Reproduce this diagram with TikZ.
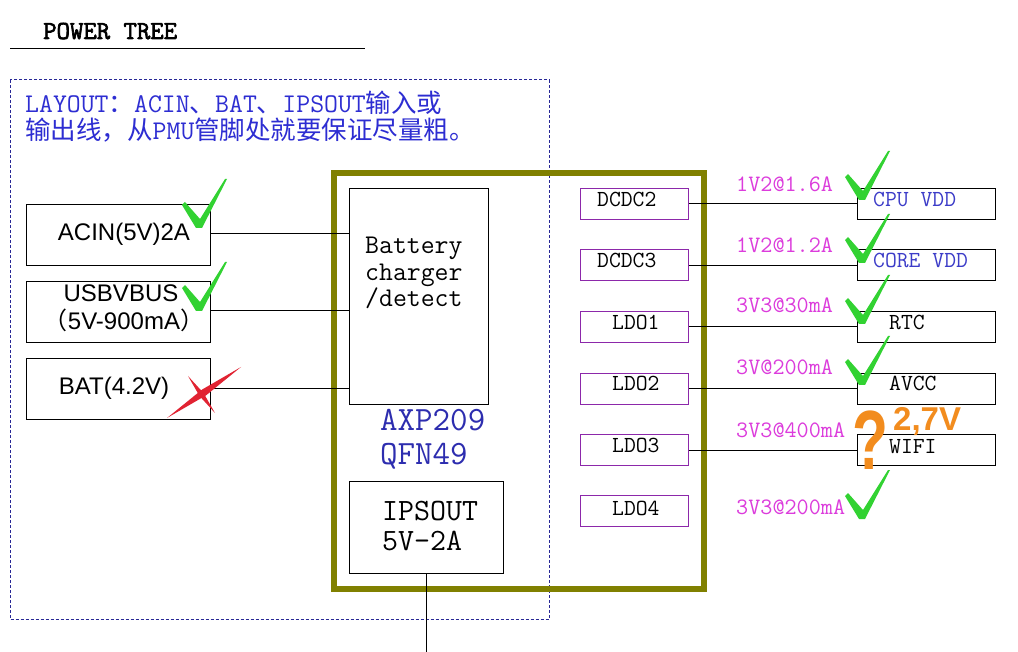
\documentclass[tikz,border=0pt]{standalone}
\usepackage{fontspec}
\setmainfont{Liberation Sans}
\newfontfamily\sansf{Liberation Sans}
\newfontfamily\cjk{Noto Sans CJK SC}
\newfontfamily\titlemono[AutoFakeBold=2.5]{Latin Modern Mono}
\newcommand{\mono}{\ttfamily}
\definecolor{navyd}{RGB}{40,40,150}
\definecolor{layblue}{RGB}{45,45,210}
\definecolor{olivec}{RGB}{128,128,0}
\definecolor{regpurple}{RGB}{140,40,170}
\definecolor{railmag}{RGB}{220,60,220}
\definecolor{chipblue}{RGB}{45,45,175}
\definecolor{loadblue}{RGB}{60,60,200}
\definecolor{okgreen}{RGB}{50,210,50}
\definecolor{badred}{RGB}{225,35,50}
\definecolor{warnorange}{RGB}{242,140,30}
\tikzset{
  inbox/.style={draw, line width=1pt, minimum width=184pt, minimum height=61pt, inner sep=0pt},
  regbox/.style={draw=regpurple, line width=1pt, minimum width=107.6pt, minimum height=31pt, inner sep=0pt},
  loadbox/.style={draw, line width=1pt, minimum width=138.7pt, minimum height=31pt, inner sep=0pt},
  wire/.style={draw, line width=1pt},
  lbl/.style={inner sep=0pt, anchor=base west},
  clbl/.style={inner sep=0pt, anchor=base},
  insans/.style={font=\sansf\fontsize{24}{28}\selectfont},
  regtxt/.style={font=\mono\fontsize{23}{26}\selectfont},
  railtxt/.style={font=\mono\fontsize{23.5}{26}\selectfont, text=railmag},
  okmark/.pic={\fill[okgreen] (-18,-22) -- (-4,1) -- (2,1) -- (27,-48) -- (25,-48) -- (0,-8) -- (-15,-25) -- cycle;}
}
\newcommand{\cj}[1]{{\cjk\fontsize{25.5}{28}\selectfont #1}}
\begin{document}
\begin{tikzpicture}[x=1pt,y=-1pt]
\useasboundingbox[fill=white] (0,0) rectangle (1018,652);

% title
\node[lbl, font=\titlemono\bfseries\fontsize{26}{28}\selectfont] (title) at (43,39) {POWER TREE};
\coordinate (ulA) at (10,49);
\coordinate (ulB) at (365,49);
\draw[line width=1pt] (ulA) -- (ulB);

% dashed layout region
\draw[navyd, line width=1pt, dash pattern=on 3pt off 2pt] (10,80) rectangle (549.3,619.3);
\node[lbl, text=layblue, font=\mono\fontsize{27}{30}\selectfont] (lay1) at (25,113)
  {LAYOUT\cj{：}ACIN\cj{、}BAT\cj{、}IPSOUT\cj{输入或}};
\node[lbl, text=layblue, font=\mono\fontsize{27}{30}\selectfont] (lay2) at (25,140)
  {\cj{输出线，从}PMU\cj{管脚处就要保证尽量粗。}};

% input boxes
\node[inbox] (acin) at (118.7,234.8) {};
\node[clbl, insans] (acint) at (124,240.7) {ACIN(5V)2A};
\node[inbox] (usb) at (118.7,312.2) {};
\node[clbl, insans] (usbt1) at (121,302) {USBVBUS};
\node[clbl, insans] (usbt2) at (124,330) {{\cjk （}5V-900mA{\cjk ）}};
\node[inbox] (bat) at (118.7,388.8) {};
\node[clbl, insans] (batt) at (114,395) {BAT(4.2V)};

% PMU chip
\node[draw=olivec, line width=6pt, minimum width=370pt, minimum height=416pt, inner sep=0pt] (chip) at (519,381) {};
\node[draw, line width=1pt, minimum width=139pt, minimum height=216pt, inner sep=0pt] (chg) at (418.8,296.3) {};
\node[lbl, font=\mono\fontsize{27}{30}\selectfont] (chg1) at (365,254) {Battery};
\node[lbl, font=\mono\fontsize{27}{30}\selectfont] (chg2) at (365,280.3) {charger};
\node[lbl, font=\mono\fontsize{27}{30}\selectfont] (chg3) at (365,306.6) {/detect};
\node[lbl, text=chipblue, font=\mono\fontsize{34}{36}\selectfont] (axp) at (380,430) {AXP209};
\node[lbl, text=chipblue, font=\mono\fontsize{34}{36}\selectfont] (qfn) at (380,464) {QFN49};
\node[draw, line width=1pt, minimum width=154pt, minimum height=91.6pt, inner sep=0pt] (ips) at (426.3,527.5) {};
\node[lbl, font=\mono\fontsize{31}{34}\selectfont] (ips1) at (382,520) {IPSOUT};
\node[lbl, font=\mono\fontsize{31}{34}\selectfont] (ips2) at (382,550.7) {5V-2A};
\coordinate (ipsend) at (426.3,652);
\draw[wire] (ips.south) -- (ipsend);

% input wires
\draw[wire] (acin.east |- 0,234) -- (chg.west |- 0,234);
\draw[wire] (usb.east |- 0,311) -- (chg.west |- 0,311);
\draw[wire] (bat.east |- 0,388.3) -- (chg.west |- 0,388.3);

% regulators
\node[regbox] (dc2) at (634.5,203.8) {};
\node[regbox] (dc3) at (634.5,265.5) {};
\node[regbox] (ld1) at (634.5,326.7) {};
\node[regbox] (ld2) at (634.5,388.8) {};
\node[regbox] (ld3) at (634.5,450.2) {};
\node[regbox] (ld4) at (634.5,511.3) {};
\node[lbl, regtxt] (dc2t) at (597,206.7) {DCDC2};
\node[lbl, regtxt] (dc3t) at (597,267.3) {DCDC3};
\node[lbl, regtxt] (ld1t) at (612,329.3) {LDO1};
\node[lbl, regtxt] (ld2t) at (612,390.7) {LDO2};
\node[lbl, regtxt] (ld3t) at (612,452.7) {LDO3};
\node[lbl, regtxt] (ld4t) at (612,515) {LDO4};

% loads
\node[loadbox] (cpu) at (926.6,203.8) {};
\node[loadbox] (core) at (926.6,265.5) {};
\node[loadbox] (rtc) at (926.6,326.7) {};
\node[loadbox] (avcc) at (926.6,388.8) {};
\node[loadbox] (wifi) at (926.6,450.2) {};
\node[lbl, regtxt, text=loadblue] (cput) at (873,206.7) {CPU VDD};
\node[lbl, regtxt, text=loadblue] (coret) at (873,267.3) {CORE VDD};
\node[lbl, regtxt] (rtct) at (889,329.3) {RTC};
\node[lbl, regtxt] (avcct) at (889,390.7) {AVCC};
\node[lbl, regtxt] (wifit) at (889,453.5) {WIFI};

% output wires
\draw[wire] (dc2) -- (cpu);
\draw[wire] (dc3) -- (core);
\draw[wire] (ld1) -- (rtc);
\draw[wire] (ld2) -- (avcc);
\draw[wire] (ld3) -- (wifi);

% rail labels
\node[lbl, railtxt] (r1) at (736,191.7) {1V2@1.6A};
\node[lbl, railtxt] (r2) at (736,252.7) {1V2@1.2A};
\node[lbl, railtxt] (r3) at (736,313) {3V3@30mA};
\node[lbl, railtxt] (r4) at (736,375) {3V@200mA};
\node[lbl, railtxt] (r5) at (736,437) {3V3@400mA};
\node[lbl, railtxt] (r6) at (736,514) {3V3@200mA};

% check marks
\pic at (200,227) {okmark};
\pic at (200,310) {okmark};
\pic at (863,199) {okmark};
\pic at (863,262) {okmark};
\pic at (863,323) {okmark};
\pic at (863,384) {okmark};
\pic at (863,518) {okmark};

% red cross
\fill[badred] (167,418) -- (206,395.4) -- (241,367) -- (202,389.6) -- cycle;
\fill[badred] (188,376) -- (203.5,393) -- (215,413) -- (199.5,396) -- cycle;

% question / 2,7V
\node[inner sep=0pt, anchor=base west, text=warnorange, font=\sansf\bfseries\fontsize{84}{84}\selectfont] (qm) at (852,469) {\scalebox{0.7}[1]{?}};
\node[lbl, text=warnorange, font=\sansf\bfseries\fontsize{33}{36}\selectfont] (v27) at (893,431) {2,7V};
\end{tikzpicture}
\end{document}
